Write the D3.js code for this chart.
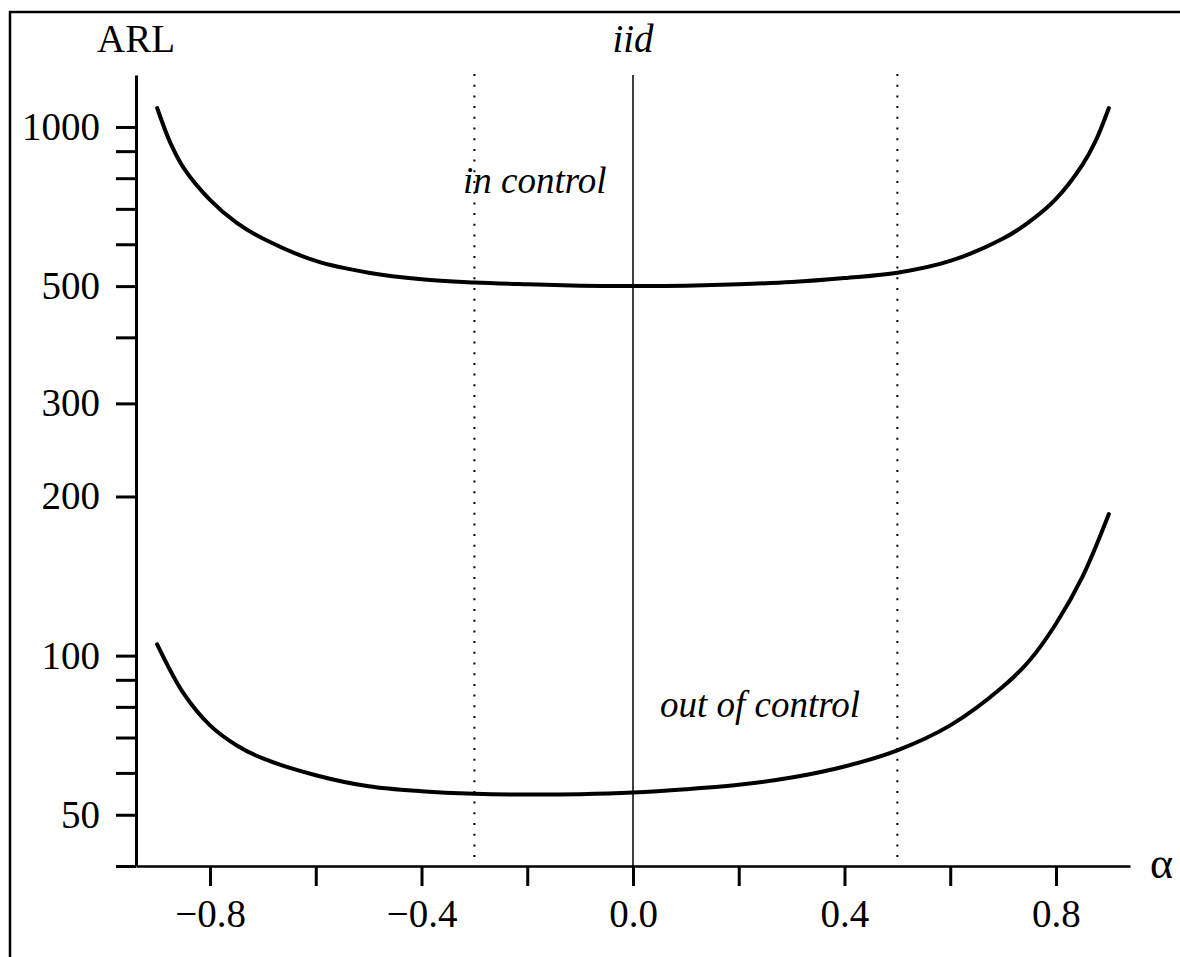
<!DOCTYPE html>
<html>
<head>
<meta charset="utf-8">
<script src="https://cdn.jsdelivr.net/npm/d3@7"></script>
<style>
  html, body { margin: 0; padding: 0; background: #fff; }
  svg { display: block; }
  text { font-family: "Liberation Serif", "DejaVu Serif", serif; fill: #000; }
</style>
</head>
<body>
<svg id="chart" width="1180" height="957"></svg>
<script>
// ---- data ----
const alphaIn = [-0.9, -0.875, -0.85, -0.8, -0.75, -0.7, -0.6, -0.5, -0.4, -0.3, -0.2, -0.1, 0, 0.1, 0.2, 0.3, 0.4, 0.5, 0.6, 0.7, 0.75, 0.8, 0.85, 0.875, 0.9];
const arlInControl = [1086, 933, 837, 728, 659, 615, 558, 530, 515, 508, 504, 501, 500, 501, 504, 509, 518, 530, 558, 615, 662, 731, 848, 941, 1086];

const alphaOut = [-0.9, -0.85, -0.8, -0.75, -0.7, -0.6, -0.5, -0.4, -0.3, -0.2, -0.1, 0, 0.1, 0.2, 0.3, 0.4, 0.5, 0.6, 0.7, 0.75, 0.8, 0.85, 0.9];
const arlOutOfControl = [105, 84.8, 73.8, 67.7, 63.9, 59.4, 56.6, 55.4, 54.8, 54.6, 54.7, 55.1, 55.9, 57.0, 58.8, 61.7, 66.2, 73.8, 87.4, 97.9, 114.9, 140.9, 185.3];

const xTickValues = [-0.8, -0.6, -0.4, -0.2, 0, 0.2, 0.4, 0.6, 0.8];
const xTickLabels = ["\u22120.8", "", "\u22120.4", "", "0.0", "", "0.4", "", "0.8"];
const yTickValues = [40, 50, 60, 70, 80, 90, 100, 200, 300, 400, 500, 600, 700, 800, 900, 1000];
const yLabelled = [50, 100, 200, 300, 500, 1000];
const referenceLines = [-0.3, 0.5];   // dotted
const iidLine = 0;                    // solid

// ---- layout ----
const svg = d3.select("#chart");
const x = d3.scaleLinear().domain([-0.94, 0.94]).range([136, 1130]);
const y = d3.scaleLog().domain([40, 1254]).range([866, 75]);

// frame
svg.append("rect").attr("x", 10).attr("y", 12).attr("width", 1200).attr("height", 1000)
  .attr("fill", "none").attr("stroke", "#000").attr("stroke-width", 2.5);

// reference lines
svg.selectAll("line.dot").data(referenceLines).enter().append("line")
  .attr("class", "dot")
  .attr("x1", d => x(d)).attr("x2", d => x(d))
  .attr("y1", 74).attr("y2", 862)
  .attr("stroke", "#000").attr("stroke-width", 2)
  .attr("stroke-dasharray", "2,8.7");

svg.append("line")
  .attr("x1", x(iidLine)).attr("x2", x(iidLine))
  .attr("y1", 75).attr("y2", 866)
  .attr("stroke", "#000").attr("stroke-width", 1.5);

// axes
const xAxis = d3.axisBottom(x).tickValues(xTickValues)
  .tickFormat((d, i) => xTickLabels[i]).tickSize(20).tickSizeOuter(0).tickPadding(13);
const gx = svg.append("g").attr("transform", "translate(0,866)").call(xAxis);

const yAxis = d3.axisLeft(y).tickValues(yTickValues)
  .tickFormat(d => yLabelled.includes(d) ? String(d) : "").tickSize(20).tickSizeOuter(0).tickPadding(16);
const gy = svg.append("g").attr("transform", "translate(136,0)").call(yAxis);

[gx, gy].forEach(g => {
  g.select(".domain").attr("stroke", "#000").attr("stroke-width", 3);
  g.selectAll(".tick line").attr("stroke", "#000").attr("stroke-width", 3);
  g.selectAll(".tick text").attr("fill", "#000")
    .style("font-family", "'Liberation Serif', serif").style("font-size", "39px");
});
gx.select(".domain").attr("stroke-width", 2.5);

// curves
const line = d3.line().x(d => x(d[0])).y(d => y(d[1])).curve(d3.curveCatmullRom.alpha(0.5));
const inData = alphaIn.map((a, i) => [a, arlInControl[i]]);
const outData = alphaOut.map((a, i) => [a, arlOutOfControl[i]]);
[inData, outData].forEach(dat => {
  svg.append("path").datum(dat).attr("d", line)
    .attr("fill", "none").attr("stroke", "#000").attr("stroke-width", 4)
    .attr("stroke-linecap", "round").attr("stroke-linejoin", "round");
});

// texts
svg.append("text").attr("x", 97).attr("y", 52).style("font-size", "39px").text("ARL");
svg.append("text").attr("x", x(0)).attr("y", 52).attr("text-anchor", "middle")
  .style("font-size", "39px").style("font-style", "italic").text("iid");
svg.append("text").attr("x", 463).attr("y", 193)
  .style("font-size", "37px").style("font-style", "italic").text("in control");
svg.append("text").attr("x", 660).attr("y", 717)
  .style("font-size", "37px").style("font-style", "italic").text("out of control");
svg.append("text").attr("x", 1150).attr("y", 878)
  .style("font-size", "44px").text("\u03b1");
</script>
</body>
</html>
